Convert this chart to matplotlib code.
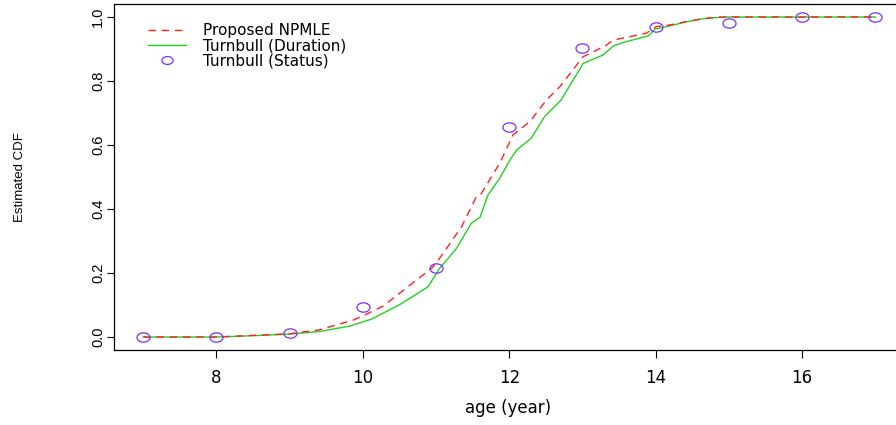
import numpy as np
import matplotlib
matplotlib.use("Agg")
import matplotlib.pyplot as plt
from matplotlib.path import Path

# Proposed NPMLE (red dashed)
npmle_age = [7, 8, 8.5, 9, 9.4, 9.87, 10.0, 10.28, 10.57, 10.94, 11.0, 11.35, 11.55,
             11.62, 11.87, 12.05, 12.28, 12.51, 12.69, 13.01, 13.33, 13.42, 13.87,
             14.01, 14.19, 14.45, 14.69, 14.9, 17]
npmle_cdf = [0, 0, 0.005, 0.010, 0.022, 0.053, 0.066, 0.097, 0.149, 0.215, 0.230, 0.345,
             0.438, 0.449, 0.543, 0.631, 0.673, 0.741, 0.782, 0.876, 0.912, 0.928, 0.949,
             0.970, 0.975, 0.987, 0.996, 1.0, 1.0]

# Turnbull (Duration) (green solid)
dur_age = [7, 8, 8.5, 9, 9.4, 9.82, 10.12, 10.51, 10.89, 11.05, 11.28, 11.48, 11.60,
           11.71, 11.87, 12.01, 12.10, 12.30, 12.48, 12.71, 13.01, 13.28, 13.42, 13.55,
           13.90, 13.99, 14.19, 14.4, 14.6, 14.8, 14.99, 17]
dur_cdf = [0, 0, 0.004, 0.009, 0.017, 0.034, 0.056, 0.102, 0.157, 0.215, 0.277, 0.355,
           0.374, 0.444, 0.496, 0.553, 0.584, 0.621, 0.688, 0.741, 0.855, 0.881, 0.909,
           0.920, 0.941, 0.962, 0.972, 0.984, 0.993, 0.998, 1.0, 1.0]

# Turnbull (Status) (circles)
status_age = [7, 8, 9, 10, 11, 12, 13, 14, 15, 16, 17]
status_cdf = [0, 0, 0.012, 0.093, 0.215, 0.655, 0.902, 0.969, 0.981, 1.0, 1.0]

x_ticks = [8, 10, 12, 14, 16]
y_ticks = [0.0, 0.2, 0.4, 0.6, 0.8, 1.0]
y_ticklabels = ["0.0", "0.2", "0.4", "0.6", "0.8", "1.0"]

W, H = 896, 425
fig = plt.figure(figsize=(W / 100, H / 100), dpi=100)
ax = fig.add_axes([114 / W, 1 - 349.8 / H, 790.5 / W, 345.6 / H])

# wide ellipse marker (reference looks horizontally stretched)
circ = Path.unit_circle()
ellipse = Path(circ.vertices * np.array([1.4, 1.0]), circ.codes)

green = "#22D022"
red = "#FF2020"
purple = "#7A2EFF"

ax.plot(dur_age, dur_cdf, color=green, lw=1.0)
ax.plot(npmle_age, npmle_cdf, color=red, lw=1.0, dashes=(5.5, 4))
ax.plot(status_age, status_cdf, linestyle="none", marker=ellipse, markersize=9.4,
        markerfacecolor="none", markeredgecolor=purple, markeredgewidth=0.9)

ax.set_xlim(6.6, 17.4)
ax.set_ylim(-0.04, 1.04)

ax.set_xticks(x_ticks)
ax.set_xticklabels([str(t) for t in x_ticks], fontsize=12, family="DejaVu Sans")
ax.set_yticks(y_ticks)
ax.set_yticklabels(y_ticklabels, fontsize=10.5, family="Liberation Sans",
                   rotation=90, va="center")
ax.tick_params(axis="x", length=6, width=0.8, pad=8)
ax.tick_params(axis="y", length=5, width=0.8, pad=1.5)
for s in ax.spines.values():
    s.set_linewidth(0.9)

fig.text(508 / W, 1 - 408 / H, "age (year)", fontsize=12, family="DejaVu Sans",
         ha="center", va="center")
fig.text(20 / W, 1 - 177 / H, "Estimated CDF", fontsize=9.5, family="Liberation Sans",
         rotation=90, ha="center", va="center")

h_np, = ax.plot([], [], color=red, lw=1.0, dashes=(5.5, 4))
h_du, = ax.plot([], [], color=green, lw=1.0)
h_st, = ax.plot([], [], linestyle="none", marker=ellipse, markersize=8,
                markerfacecolor="none", markeredgecolor=purple, markeredgewidth=0.9)
ax.legend([h_np, h_du, h_st],
          ["Proposed NPMLE", "Turnbull (Duration)", "Turnbull (Status)"],
          loc="upper left", bbox_to_anchor=(148 / W, 1 - 23.5 / H),
          bbox_transform=fig.transFigure, frameon=False,
          prop={"family": "DejaVu Sans", "size": 11},
          borderpad=0, borderaxespad=0, handlelength=2.5, handletextpad=1.1,
          labelspacing=0.0)

fig.savefig("out.png", dpi=100)
